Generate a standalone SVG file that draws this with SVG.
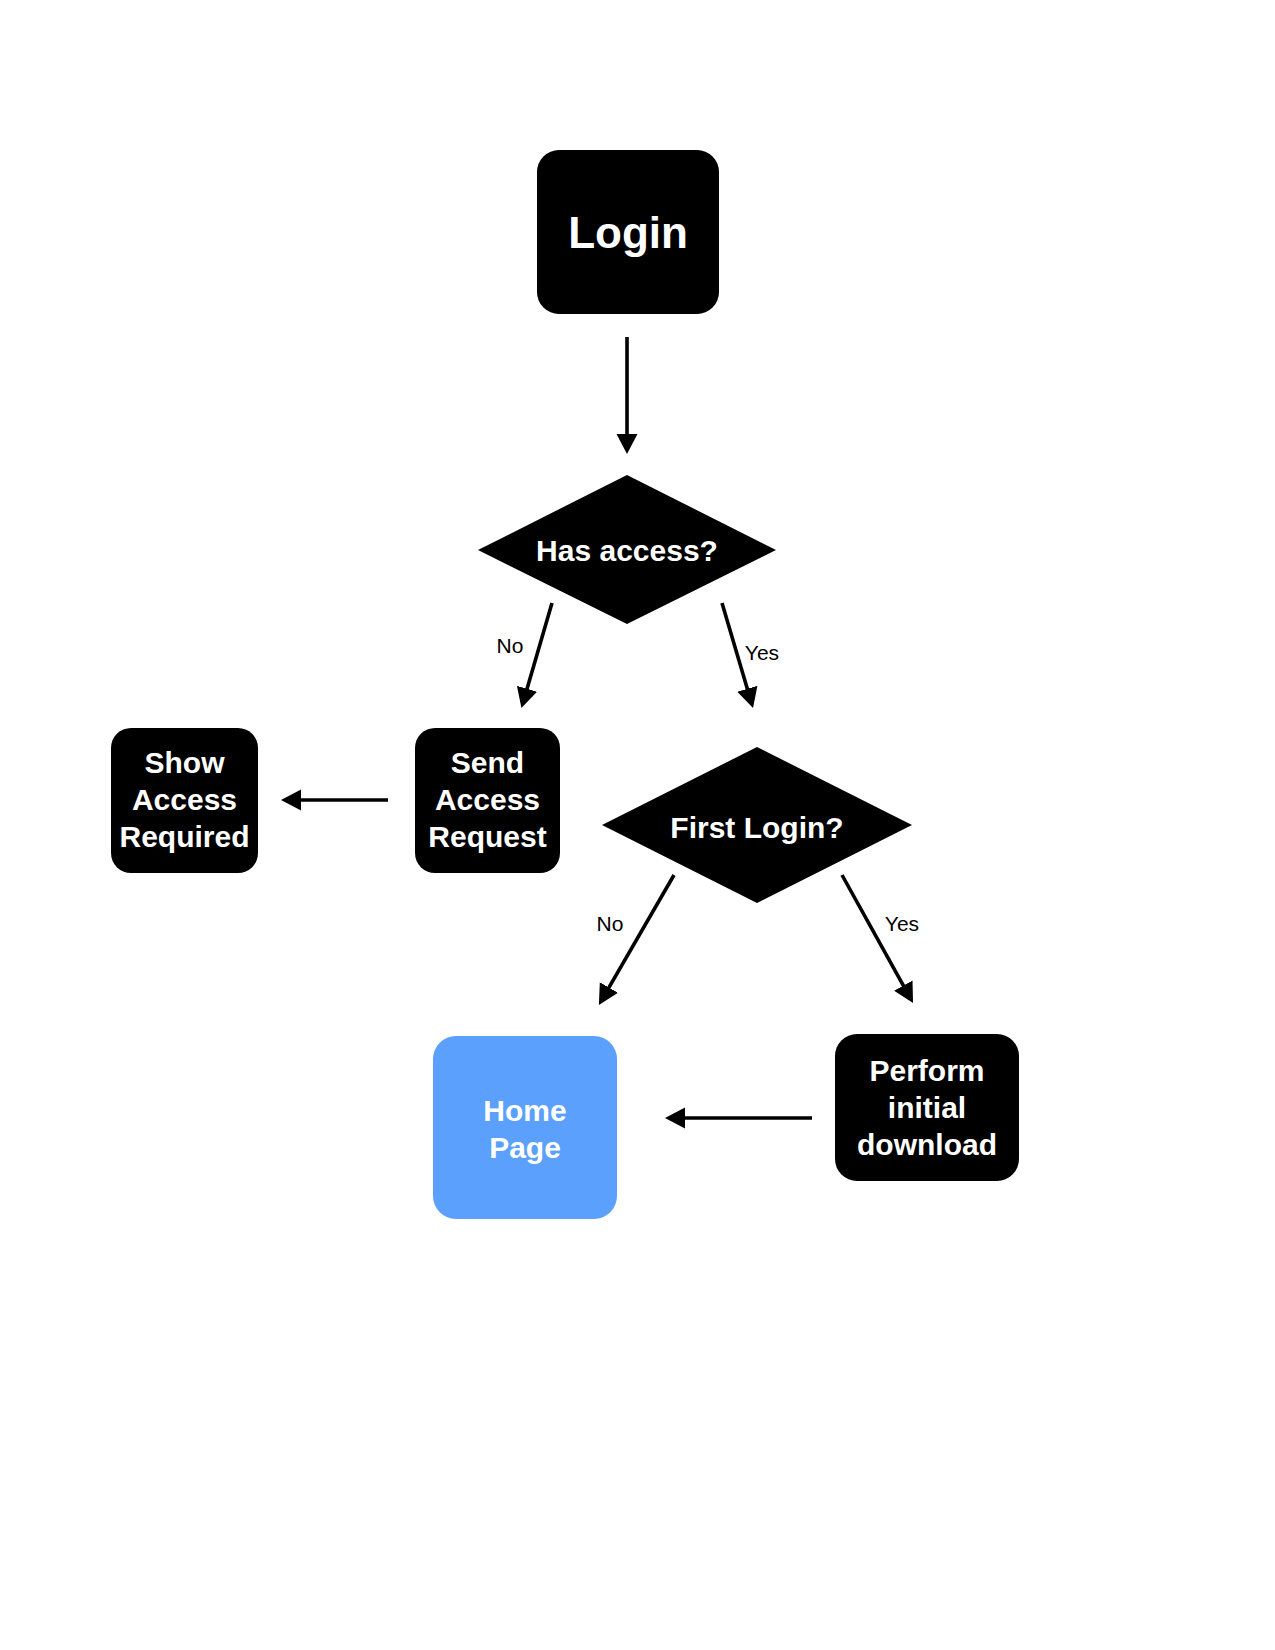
<svg xmlns="http://www.w3.org/2000/svg" width="1275" height="1650" viewBox="0 0 1275 1650">
  <style>
    .box { fill: #000000; }
    .home { fill: #5BA0FD; }
    .t { font-family: "Liberation Sans", Arial, Helvetica, sans-serif; font-weight: bold; fill: #ffffff; text-anchor: middle; font-size: 30px; }
    .big { font-size: 44px; }
    .lbl { font-family: "Liberation Sans", Arial, Helvetica, sans-serif; fill: #000000; font-size: 21px; text-anchor: middle; }
    .c { stroke: #000000; stroke-width: 3.6; fill: none; marker-end: url(#arrow); }
  </style>
  <defs>
    <marker id="arrow" markerUnits="userSpaceOnUse" markerWidth="22" markerHeight="22" refX="9" refY="10.5" orient="auto">
      <path d="M0,0 L20,10.5 L0,21 z" fill="#000000"/>
    </marker>
  </defs>
  <rect width="1275" height="1650" fill="#ffffff"/>

  <g id="connectors">
    <line class="c" x1="627" y1="337" x2="627" y2="443"/>
    <line class="c" x1="552" y1="603" x2="524.5" y2="697.4"/>
    <line class="c" x1="722" y1="603" x2="749.9" y2="697.4"/>
    <line class="c" x1="388" y1="800" x2="292" y2="800"/>
    <line class="c" x1="674" y1="875" x2="604.4" y2="995.4"/>
    <line class="c" x1="842" y1="875" x2="907.7" y2="993.4"/>
    <line class="c" x1="812" y1="1118" x2="676" y2="1118"/>
    <text class="lbl" x="510" y="653">No</text>
    <text class="lbl" x="762" y="660">Yes</text>
    <text class="lbl" x="610" y="931">No</text>
    <text class="lbl" x="902" y="931">Yes</text>
  </g>

  <g id="login">
    <rect class="box" x="537" y="150" width="182" height="164" rx="22"/>
    <text class="t big" x="628" y="248">Login</text>
  </g>

  <g id="has-access">
    <polygon class="box" points="627,475 776,550 627,624 478,550"/>
    <text class="t" x="627" y="561">Has access?</text>
  </g>

  <g id="show-access-required">
    <rect class="box" x="111" y="728" width="147" height="145" rx="20"/>
    <text class="t" x="184.5" y="773">Show</text>
    <text class="t" x="184.5" y="810">Access</text>
    <text class="t" x="184.5" y="847">Required</text>
  </g>

  <g id="send-access-request">
    <rect class="box" x="415" y="728" width="145" height="145" rx="20"/>
    <text class="t" x="487.5" y="773">Send</text>
    <text class="t" x="487.5" y="810">Access</text>
    <text class="t" x="487.5" y="847">Request</text>
  </g>

  <g id="first-login">
    <polygon class="box" points="757,747 912,825 757,903 602,825"/>
    <text class="t" x="757" y="838">First Login?</text>
  </g>

  <g id="home-page">
    <rect class="home" x="433" y="1036" width="184" height="183" rx="23"/>
    <text class="t" x="525" y="1121">Home</text>
    <text class="t" x="525" y="1158">Page</text>
  </g>

  <g id="perform-initial-download">
    <rect class="box" x="835" y="1034" width="184" height="147" rx="22"/>
    <text class="t" x="927" y="1081">Perform</text>
    <text class="t" x="927" y="1118">initial</text>
    <text class="t" x="927" y="1155">download</text>
  </g>
</svg>
